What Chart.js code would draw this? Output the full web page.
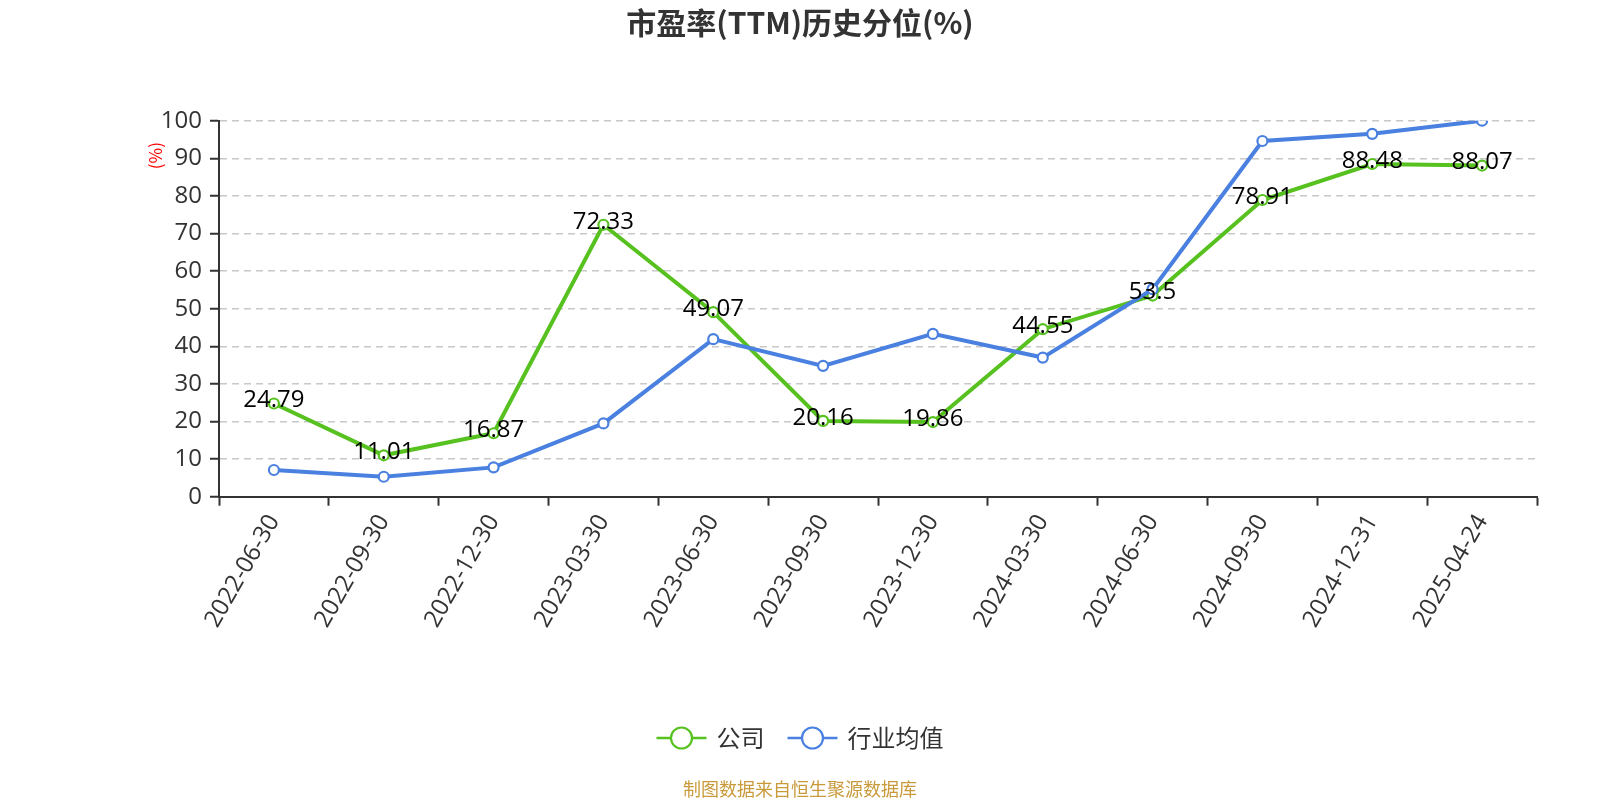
<!DOCTYPE html>
<html>
<head>
<meta charset="utf-8">
<script src="https://cdn.jsdelivr.net/npm/chart.js@4.4.1/dist/chart.umd.min.js"></script>
<style>
  html, body { margin: 0; padding: 0; background: #ffffff; }
  #wrap { width: 1600px; height: 800px; position: relative; }
</style>
</head>
<body>
<div id="wrap"><canvas id="c" width="1600" height="800"></canvas></div>
<script>
const titleText = '市盈率(TTM)历史分位(%)';
const footerText = '制图数据来自恒生聚源数据库';
const yAxisTitle = '(%)';
const categories = ['2022-06-30','2022-09-30','2022-12-30','2023-03-30','2023-06-30','2023-09-30','2023-12-30','2024-03-30','2024-06-30','2024-09-30','2024-12-31','2025-04-24'];
const companyName = '公司';
const industryName = '行业均值';
const companyValues = [24.79, 11.01, 16.87, 72.33, 49.07, 20.16, 19.86, 44.55, 53.5, 78.91, 88.48, 88.07];
const industryValues = [7.1, 5.3, 7.8, 19.5, 41.9, 34.8, 43.3, 37.0, 55.2, 94.6, 96.5, 100];
const yTicks = [0, 10, 20, 30, 40, 50, 60, 70, 80, 90, 100];

const GREEN = '#56c11f';
const BLUE = '#4a80e0';
const FONT = '"Open Sans", "Noto Sans CJK SC", sans-serif';
const CJK = '"Noto Sans CJK SC", "Open Sans", sans-serif';

const extrasPlugin = {
  id: 'extras',
  afterDatasetsDraw(chart) {
    const ctx = chart.ctx;
    const meta = chart.getDatasetMeta(0);
    ctx.save();
    ctx.font = '24px ' + FONT;
    ctx.fillStyle = '#000';
    ctx.textAlign = 'center';
    ctx.textBaseline = 'middle';
    meta.data.forEach((pt, i) => {
      ctx.fillText(String(companyValues[i]), pt.x, pt.y - 3);
    });
    ctx.restore();
  },
  afterDraw(chart) {
    const ctx = chart.ctx;
    const area = chart.chartArea;
    ctx.save();
    // title
    ctx.font = 'bold 30px ' + CJK;
    ctx.fillStyle = '#333';
    ctx.textAlign = 'center';
    ctx.textBaseline = 'middle';
    ctx.fillText(titleText, 800, 23);
    // y axis title
    ctx.save();
    ctx.translate(area.left - 63, area.top + 35);
    ctx.rotate(-Math.PI / 2);
    ctx.font = '17px ' + CJK;
    ctx.fillStyle = '#ff0000';
    ctx.textAlign = 'center';
    ctx.textBaseline = 'middle';
    ctx.fillText(yAxisTitle, 0, 0);
    ctx.restore();
    // legend
    const items = [
      { label: companyName, color: GREEN },
      { label: industryName, color: BLUE }
    ];
    ctx.font = '24px ' + CJK;
    const iconW = 50, gapText = 10, gapItem = 23;
    let total = 0;
    items.forEach((it, i) => {
      it.w = ctx.measureText(it.label).width;
      total += iconW + gapText + it.w + (i < items.length - 1 ? gapItem : 0);
    });
    let x = 800 - total / 2;
    const ly = 738;
    items.forEach((it) => {
      ctx.strokeStyle = it.color;
      ctx.lineWidth = 2.5;
      ctx.beginPath();
      ctx.moveTo(x, ly);
      ctx.lineTo(x + iconW, ly);
      ctx.stroke();
      ctx.beginPath();
      ctx.arc(x + iconW / 2, ly, 10.5, 0, Math.PI * 2);
      ctx.fillStyle = '#fff';
      ctx.fill();
      ctx.lineWidth = 2.2;
      ctx.stroke();
      ctx.fillStyle = '#333';
      ctx.textAlign = 'left';
      ctx.textBaseline = 'middle';
      ctx.fillText(it.label, x + iconW + gapText, ly);
      x += iconW + gapText + it.w + gapItem;
    });
    // footer
    ctx.font = '18px ' + CJK;
    ctx.fillStyle = '#c99a3c';
    ctx.textAlign = 'center';
    ctx.textBaseline = 'middle';
    ctx.fillText(footerText, 800, 789);
    ctx.restore();
  }
};

new Chart(document.getElementById('c'), {
  type: 'line',
  data: {
    labels: categories,
    datasets: [
      {
        label: companyName,
        data: companyValues,
        borderColor: GREEN,
        backgroundColor: '#ffffff',
        borderWidth: 4,
        pointRadius: 5,
        pointBorderWidth: 2.2,
        pointBackgroundColor: '#ffffff',
        pointBorderColor: GREEN,
        tension: 0,
        order: 1
      },
      {
        label: industryName,
        data: industryValues,
        borderColor: BLUE,
        backgroundColor: '#ffffff',
        borderWidth: 4,
        pointRadius: 5,
        pointBorderWidth: 2.2,
        pointBackgroundColor: '#ffffff',
        pointBorderColor: BLUE,
        tension: 0,
        order: 0
      }
    ]
  },
  options: {
    responsive: false,
    animation: false,
    devicePixelRatio: 1,
    layout: { padding: { top: 120.7, right: 63, bottom: 0, left: 0 } },
    plugins: {
      legend: { display: false },
      title: { display: false },
      tooltip: { enabled: false }
    },
    scales: {
      x: {
        type: 'category',
        offset: true,
        grid: {
          display: true,
          drawOnChartArea: false,
          drawTicks: true,
          tickLength: 9,
          tickColor: '#333',
          tickWidth: 2,
          offset: true
        },
        border: { display: true, color: '#333', width: 2 },
        ticks: {
          autoSkip: false,
          minRotation: 60,
          maxRotation: 60,
          padding: 4,
          color: '#333',
          font: { size: 24, family: FONT }
        },
        afterFit(scale) { scale.height = 303.3; }
      },
      y: {
        min: 0,
        max: 100,
        afterBuildTicks(scale) { scale.ticks = yTicks.map(v => ({ value: v })); },
        grid: {
          color: '#c8c8c8',
          lineWidth: 1.5,
          drawTicks: true,
          tickLength: 9,
          tickColor: '#333',
          tickWidth: 2,
          tickBorderDash: []
        },
        border: { display: true, color: '#333', width: 2, dash: [7, 5] },
        ticks: {
          padding: 8,
          color: '#333',
          font: { size: 24, family: FONT }
        },
        afterFit(scale) { scale.width = 219; }
      }
    }
  },
  plugins: [extrasPlugin]
});
</script>
</body>
</html>
